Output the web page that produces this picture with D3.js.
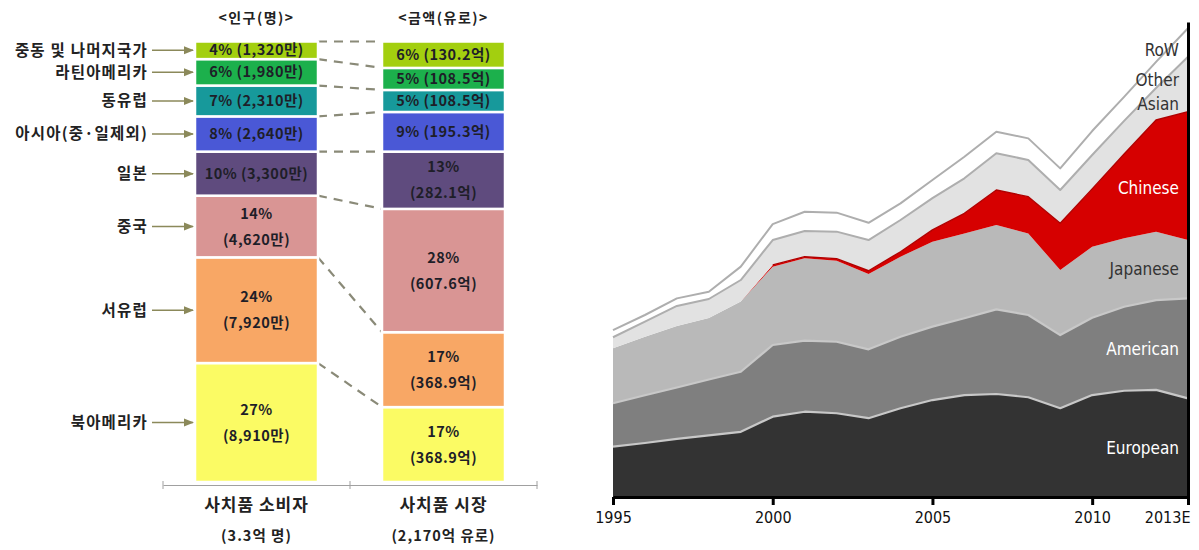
<!DOCTYPE html>
<html><head><meta charset="utf-8">
<script src="https://cdn.jsdelivr.net/npm/d3@7"></script>
<style>
body{margin:0;background:#fff;}
svg{display:block;}
.ko{font-family:"Noto Sans CJK KR","Noto Sans",sans-serif;font-weight:700;}
.en{font-family:"DejaVu Sans Condensed","Liberation Sans Narrow","DejaVu Sans",sans-serif;font-stretch:condensed;}
</style></head><body>
<svg id="chart" width="1199" height="550"></svg>
<script>
// ---- Left panel: luxury consumers vs. luxury market by region (listed bottom to top)
const regions = ["북아메리카","서유럽","중국","일본","아시아(중·일제외)","동유럽","라틴아메리카","중동 및 나머지국가"];
const consumers = [8910, 7920, 4620, 3300, 2640, 2310, 1980, 1320];        // 만 명
const marketValue = [368.9, 368.9, 607.6, 282.1, 195.3, 108.5, 108.5, 130.2]; // 억 유로
const regionColors = ["#fbfb64","#f8a765","#d99594","#5f4b7e","#4a58d6","#17999b","#1cb04c","#a3cf0f"];
const barGroups = ["사치품 소비자","사치품 시장"];
const barTotals = ["(3.3억 명)","(2,170억 유로)"];
const barHeaders = ["<인구(명)>","<금액(유로)>"];

// ---- Right panel: global luxury market by buyer nationality (€bn)
const years = [1995,1996,1997,1998,1999,2000,2001,2002,2003,2004,2005,2006,2007,2008,2009,2010,2011,2012,2013];
const european   = [23.3,25.0,26.9,28.5,30.2,37.2,39.5,38.8,36.5,41.1,44.9,47.2,47.7,46.2,41.1,47.2,49.2,49.6,45.7];
const american   = [20.1,22.1,23.8,25.9,27.8,33.2,32.9,33.1,31.9,33.1,34.0,35.6,39.2,38.1,33.9,35.8,38.9,41.6,46.3];
const japanese   = [25.5,27.1,28.5,28.5,32.5,36.3,38.2,37.5,34.9,37.1,39.3,39.3,39.1,37.8,30.1,32.9,31.7,31.7,27.0];
const chinese    = [0,0,0,0,0,0.8,0.7,1.0,1.5,2.3,5.5,9.3,16.2,17.0,21.7,26.8,39.1,51.7,59.5];
const otherAsian = [5.1,7.0,9.3,8.8,10.0,11.5,11.9,12.5,14.2,14.7,14.7,16.2,17.0,17.0,15.4,15.7,15.3,14.8,25.4];
const restOfWorld= [3.3,3.1,3.5,3.4,6.2,7.4,8.9,8.8,8.0,7.7,8.4,10.0,10.0,10.0,10.0,11.1,11.1,12.1,13.2];
const seriesNames = ["European","American","Japanese","Chinese","Other Asian","RoW"];
const seriesColors = ["#333333","#7f7f7f","#b9b9b9","#d60000","#e2e2e2","#ffffff"];
const seriesLabelColors = ["#ffffff","#ffffff","#333333","#ffffff","#333333","#333333"];
const yearTicks = [1995, 2000, 2005, 2010, 2013];
const yearTickLabels = ["1995","2000","2005","2010","2013E"];

const svg = d3.select("#chart");

// ================= Left panel =================
const left = svg.append("g");
const band = d3.scaleBand().domain(barGroups).range([163, 537]);
const barW = 123;
const yShare = d3.scaleLinear().domain([0, 1]).range([482, 41.5]);
const arrowColor = "#8b895a";

svg.append("defs").append("marker")
  .attr("id","arrowHead").attr("viewBox","0 0 10 10").attr("refX",9).attr("refY",5)
  .attr("markerWidth",7).attr("markerHeight",7).attr("orient","auto")
  .append("path").attr("d","M0,1 L10,5 L0,9 Z").attr("fill",arrowColor);

function stackShares(vals){
  const total = d3.sum(vals);
  let acc = 0;
  return vals.map((v,i)=>{ const s = {i, v, share: v/total, y0: acc/total}; acc += v; s.y1 = acc/total; return s; });
}
const groupData = [
  {name: barGroups[0], segs: stackShares(consumers), fmt: v => d3.format(",")(v) + "만"},
  {name: barGroups[1], segs: stackShares(marketValue), fmt: v => d3.format(".1f")(v) + "억"}
];

// dashed connectors between matching boundaries
const xLeftEdge = band(barGroups[0]) + (band.bandwidth() - barW)/2 + barW;
const xRightEdge = band(barGroups[1]) + (band.bandwidth() - barW)/2;
groupData[0].segs.forEach((s, i) => {
  const t = groupData[1].segs[i];
  left.append("line")
    .attr("x1", xLeftEdge).attr("x2", xRightEdge)
    .attr("y1", yShare(s.y1)).attr("y2", yShare(t.y1))
    .attr("stroke", "#8a8a78").attr("stroke-width", 2.2)
    .attr("stroke-dasharray", "9,7");
});

groupData.forEach((g, gi) => {
  const x0 = band(g.name) + (band.bandwidth() - barW)/2;
  const cx = x0 + barW/2;
  const gg = left.append("g");
  gg.selectAll("rect").data(g.segs).join("rect")
    .attr("x", x0).attr("width", barW)
    .attr("y", d => yShare(d.y1)).attr("height", d => yShare(d.y0) - yShare(d.y1))
    .attr("fill", d => regionColors[d.i])
    .attr("stroke", "#fff").attr("stroke-width", 2.5);
  g.segs.forEach(d => {
    const top = yShare(d.y1), bot = yShare(d.y0), h = bot - top, cy = (top + bot)/2;
    const pct = Math.round(d.share*100) + "%";
    const amt = "(" + g.fmt(d.v) + ")";
    const t = gg.append("text").attr("class","ko").attr("text-anchor","middle")
      .attr("font-size", 14.5).attr("fill","#1e1e28").attr("letter-spacing", 0.5);
    if (h > 50) {
      t.append("tspan").attr("x", cx).attr("y", cy - 13).attr("dy","0.35em").text(pct);
      t.append("tspan").attr("x", cx).attr("y", cy + 13).attr("dy","0.35em").text(amt);
    } else {
      t.attr("x", cx).attr("y", cy).attr("dy","0.35em").text(pct + " " + amt);
    }
  });
  // header
  left.append("text").attr("class","ko").attr("x", cx).attr("y", 18).attr("dy","0.35em")
    .attr("text-anchor","middle").attr("font-size", 14).attr("letter-spacing", 1.5)
    .attr("fill","#222").text(barHeaders[gi]);
  // bottom labels
  left.append("text").attr("class","ko").attr("x", cx).attr("y", 505).attr("dy","0.35em")
    .attr("text-anchor","middle").attr("font-size", 17).attr("fill","#222").attr("letter-spacing", 1).text(g.name);
  left.append("text").attr("class","ko").attr("x", cx).attr("y", 536).attr("dy","0.35em")
    .attr("text-anchor","middle").attr("font-size", 14.5).attr("letter-spacing", 1).attr("fill","#222").text(barTotals[gi]);
});

// region labels with arrows (consumer bar)
groupData[0].segs.forEach(d => {
  const cy = (yShare(d.y0) + yShare(d.y1))/2;
  left.append("line").attr("x1", 152).attr("x2", band(barGroups[0]) + (band.bandwidth()-barW)/2 - 2)
    .attr("y1", cy).attr("y2", cy).attr("stroke", arrowColor).attr("stroke-width", 1.5)
    .attr("marker-end","url(#arrowHead)");
  left.append("text").attr("class","ko").attr("x", 148).attr("y", cy).attr("dy","0.35em")
    .attr("text-anchor","end").attr("font-size", 15.5).attr("letter-spacing", 1.2).attr("fill","#222")
    .text(regions[d.i]);
});

// category baseline
const baseAxis = d3.axisBottom(band).tickSize(0).tickFormat("");
left.append("g").attr("transform","translate(0,485)").call(baseAxis)
  .call(a => a.select(".domain").attr("stroke","#a0a0a0"));
[163, 350, 537].forEach(x => left.append("line").attr("x1",x).attr("x2",x).attr("y1",481).attr("y2",489).attr("stroke","#a0a0a0"));

// ================= Right panel =================
const right = svg.append("g");
const x = d3.scaleLinear().domain([1995, 2013]).range([613, 1188]);
const y = d3.scaleLinear().domain([0, 220]).range([497, 22]);

const table = years.map((yr, i) => ({
  year: yr,
  "European": european[i], "American": american[i], "Japanese": japanese[i],
  "Chinese": chinese[i], "Other Asian": otherAsian[i], "RoW": restOfWorld[i]
}));
const stacked = d3.stack().keys(seriesNames)(table);

const area = d3.area().x(d => x(d.data.year)).y0(d => y(d[0])).y1(d => y(d[1]));
right.selectAll("path.layer").data(stacked).join("path").attr("class","layer")
  .attr("d", area).attr("fill", (d,i) => seriesColors[i]);

// layer edges
const topLine = d3.line().x(d => x(d.data.year)).y(d => y(d[1]));
const edgeStyle = [
  {k:0, c:"#c8c8c8", w:2.2},
  {k:1, c:"#c8c8c8", w:2.2},
  {k:3, c:"#b00000", w:1.4, from: 2000},
  {k:4, c:"#aeaeae", w:2},
  {k:5, c:"#aeaeae", w:2}
];
edgeStyle.forEach(e => {
  const ln = topLine.defined(d => !e.from || d.data.year >= e.from);
  right.append("path").attr("d", ln(stacked[e.k])).attr("fill","none")
    .attr("stroke", e.c).attr("stroke-width", e.w).attr("stroke-linejoin","round");
});
topLine.defined(() => true);

// layer labels at the right edge
const last = years.length - 1;
const labelOffsets = [0, 1, 0, 12, 8, 8];
stacked.forEach((s, i) => {
  const mid = (s[last][0] + s[last][1]) / 2;
  const t = right.append("text").attr("class","en").attr("text-anchor","end")
    .attr("font-size", 17).attr("fill", seriesLabelColors[i]);
  const cy = y(mid) + labelOffsets[i];
  if (seriesNames[i] === "Other Asian") {
    t.append("tspan").attr("x", 1179).attr("y", cy - 12).attr("dy","0.35em").text("Other");
    t.append("tspan").attr("x", 1179).attr("y", cy + 12).attr("dy","0.35em").text("Asian");
  } else {
    t.attr("x", 1179).attr("y", cy).attr("dy","0.35em").text(seriesNames[i]);
  }
});

// axes
const xAxis = d3.axisBottom(x).tickValues(yearTicks)
  .tickFormat((d, i) => yearTickLabels[i]).tickSize(8).tickSizeOuter(0);
const gx = right.append("g").attr("transform", `translate(0,${y(0)})`).call(xAxis);
gx.select(".domain").attr("stroke","#000").attr("stroke-width",3);
gx.selectAll(".tick line").attr("stroke","#000").attr("stroke-width",3);
gx.selectAll(".tick text").attr("class","en").attr("font-size",16).attr("fill","#111").attr("y", 15);
gx.selectAll(".tick").filter(d => d === 2013).select("text").attr("text-anchor","end").attr("dx", 2);

const yAxis = d3.axisLeft(y).tickValues([]).tickSizeOuter(0);
right.append("g").attr("transform", `translate(${x(2013)},0)`).call(yAxis)
  .select(".domain").attr("stroke","#000").attr("stroke-width",3);
</script>
</body></html>
